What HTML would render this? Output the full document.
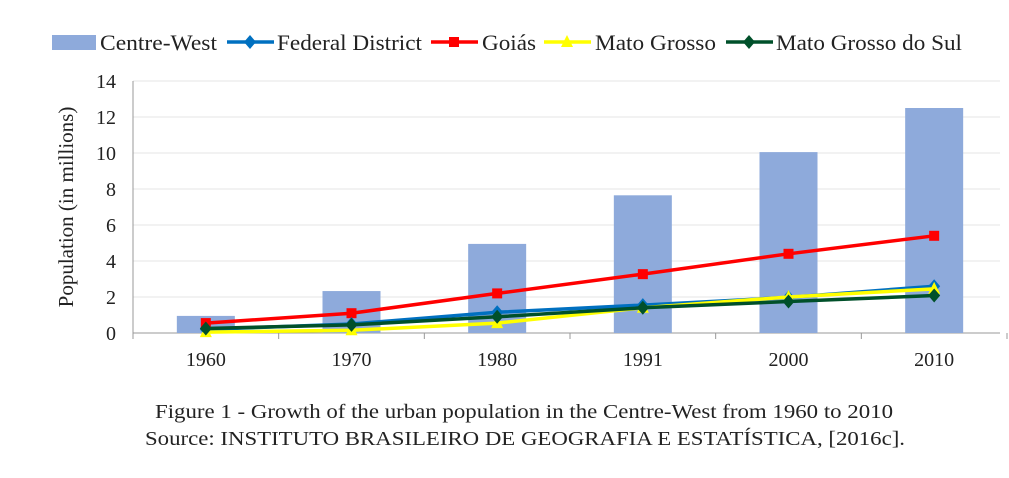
<!DOCTYPE html>
<html><head><meta charset="utf-8"><style>
body{margin:0;background:#fff;}
svg{display:block;font-family:"Liberation Serif",serif;}
</style></head><body>
<svg id="c" width="1009" height="478"></svg>
<script>
const categories=["1960","1970","1980","1991","2000","2010"];
const centreWest=[0.95,2.33,4.95,7.65,10.05,12.5];
const federalDistrict=[0.2,0.5,1.15,1.55,1.98,2.6];
const goias=[0.55,1.1,2.2,3.27,4.4,5.4];
const matoGrosso=[0.05,0.15,0.55,1.4,2.0,2.45];
const matoGrossoDoSul=[0.25,0.45,0.9,1.4,1.75,2.08];
const yTicks=[0,2,4,6,8,10,12,14];

const NS="http://www.w3.org/2000/svg";
const svg=document.getElementById('c');
const L=133,R=1007,Y0=333,Ymax=81;
const band=(R-L)/categories.length;
const xs=i=>L+band*(i+0.5);
const ys=v=>Y0-(Y0-Ymax)*v/14;
function mk(t,a,p){const e=document.createElementNS(NS,t);for(const k in a)e.setAttribute(k,a[k]);(p||svg).appendChild(e);return e;}

yTicks.forEach(t=>{
  const g=mk('line',{x1:L,x2:1000,y1:ys(t),y2:ys(t),stroke:t===0?'#999':'#e4e4e4','stroke-width':1});
  
  
  const tx=mk('text',{x:116,y:ys(t)+7,'text-anchor':'end','font-size':20,fill:'#222'});
  tx.textContent=t;
  
  
});
mk('line',{x1:L,x2:L,y1:Ymax,y2:Y0,stroke:'#999'});
for(let i=0;i<=categories.length;i++){mk('line',{x1:L+band*i,x2:L+band*i,y1:Y0,y2:Y0+6,stroke:'#999'});}
categories.forEach((c,i)=>{
  const t=mk('text',{x:xs(i),y:366,'text-anchor':'middle','font-size':20,fill:'#222'});
  t.textContent=c;
  
  
});
centreWest.forEach((v,i)=>{
  const b=mk('rect',{x:xs(i)-29,y:ys(v),width:58,height:Y0-ys(v),fill:'#8eaadb'});
  
  
});
function marker(type,x,y,color,p){
  if(type==='diamond')mk('polygon',{points:`${x},${y-7} ${x+6},${y} ${x},${y+7} ${x-6},${y}`,fill:color},p);
  else if(type==='square')mk('rect',{x:x-5,y:y-5,width:10,height:10,fill:color},p);
  else mk('polygon',{points:`${x},${y-7} ${x+6},${y+5} ${x-6},${y+5}`,fill:color},p);
}
function series(name,data,color,type){
  const g=mk('g',{});
  
  
  mk('polyline',{points:data.map((v,i)=>xs(i)+','+ys(v)).join(' '),fill:'none',stroke:color,'stroke-width':3.5},g);
  data.forEach((v,i)=>marker(type,xs(i),ys(v),color,g));
}
series('goias',goias,'#ff0000','square');
series('federal-district',federalDistrict,'#0070c0','diamond');
series('mato-grosso',matoGrosso,'#ffff00','triangle');
series('mato-grosso-do-sul',matoGrossoDoSul,'#00502a','diamond');

// legend
const leg=mk('g',{});


mk('rect',{x:52,y:35,width:44,height:15,fill:'#8eaadb'},leg);
const items=[['Centre-West',100,117],['Federal District',277,145],['Goiás',482,54],['Mato Grosso',595,121],['Mato Grosso do Sul',776,186]];
const lm=[null,['#0070c0','diamond',227],['#ff0000','square',431],['#ffff00','triangle',544],['#00502a','diamond',726]];
items.forEach((it,i)=>{
  if(lm[i]){mk('line',{x1:lm[i][2],x2:lm[i][2]+47,y1:42,y2:42,stroke:lm[i][0],'stroke-width':3.5},leg);marker(lm[i][1],lm[i][2]+23,42,lm[i][0],leg);}
  const t=mk('text',{x:it[1],y:50,'font-size':22,fill:'#222',textLength:it[2],lengthAdjust:'spacingAndGlyphs'},leg);
  t.textContent=it[0];
  
  
});
const yt=mk('text',{x:0,y:0,transform:'translate(73,207) rotate(-90)','text-anchor':'middle','font-size':21,fill:'#222'});
yt.textContent='Population (in millions)';


const c1=mk('text',{x:155,y:418,'font-size':20,fill:'#222',textLength:738,lengthAdjust:'spacingAndGlyphs'});
c1.textContent='Figure 1 - Growth of the urban population in the Centre-West from 1960 to 2010';


const c2=mk('text',{x:145,y:445,'font-size':20,fill:'#222',textLength:760,lengthAdjust:'spacingAndGlyphs'});
c2.textContent='Source: INSTITUTO BRASILEIRO DE GEOGRAFIA E ESTATÍSTICA, [2016c].';


</script>
</body></html>
